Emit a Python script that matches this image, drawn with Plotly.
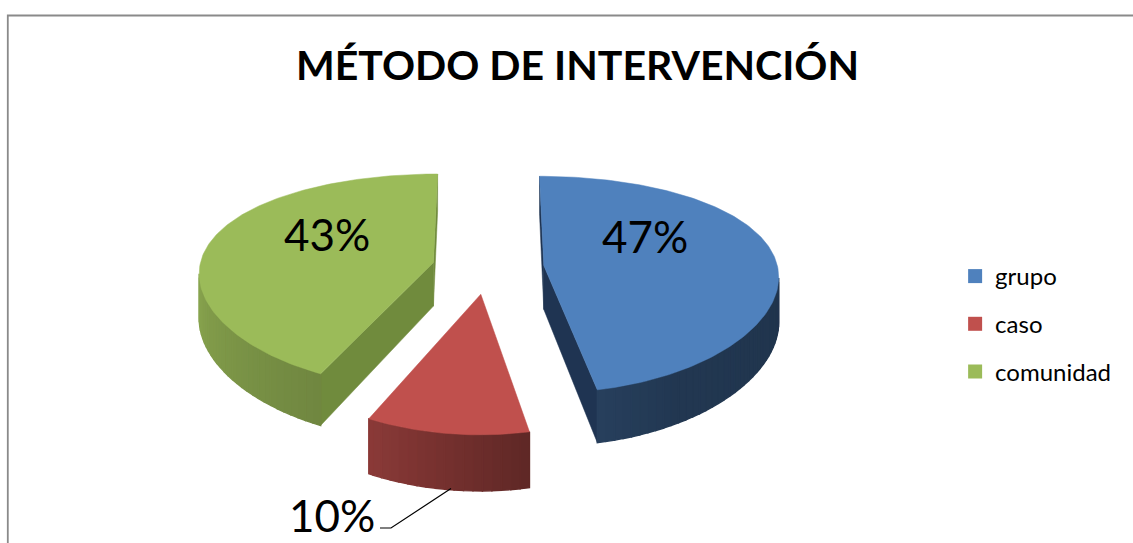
import numpy as np
import plotly.graph_objects as go

# ---------------- data ----------------
categories = ["grupo", "caso", "comunidad"]
values = [47, 10, 43]
top_colors = ["#4F81BD", "#C0504D", "#9BBB59"]
cut_colors = ["#1F3452", "#7A2E2C", "#708B3D"]
title_text = "MÉTODO DE INTERVENCIÓN"

# ---------------- layout / geometry constants ----------------
W, H = 1133, 543
CX, CY = 488.0, 268.0      # centre of the (unexploded) pie, px
RX, KY = 234.0, 105.7      # horizontal radius, vertical squash, px
DIST = 5.74                # perspective distance (in radii)
THICK = 44.0               # pie thickness, px
EXPLODE = 0.24             # explosion distance (in radii)
BAND = 3.0                 # degrees per shading band on the curved side
FONT = "Lato, 'Open Sans', sans-serif"

# side shading: fraction of the top colour vs. facing angle (deg, clockwise from back)
SHADE_ANG = [0, 90, 150, 169, 205, 270, 300, 360]
SHADE_FAC = [0.40, 0.40, 0.43, 0.49, 0.72, 0.89, 0.90, 0.90]

LABEL_XY = {"grupo": (645, 236), "comunidad": (327, 234), "caso": (332, 515)}


def proj(X, Z, depth=0.0):
    Z = np.asarray(Z, dtype=float)
    s = DIST / (DIST - Z)
    return CX + np.asarray(X) * RX * np.sqrt(s), CY + (Z * KY + depth * THICK) * s


def hex_scale(hexcol, f):
    h = hexcol.lstrip("#")
    r, g, b = (int(h[i:i + 2], 16) for i in (0, 2, 4))
    return "rgb({},{},{})".format(int(round(r * f)), int(round(g * f)), int(round(b * f)))


def area(xs, ys):
    xs = np.asarray(xs); ys = np.asarray(ys)
    return 0.5 * np.sum(xs * np.roll(ys, -1) - np.roll(xs, -1) * ys)


fig = go.Figure()

total = float(sum(values))
starts = np.concatenate([[0.0], np.cumsum(values)[:-1]]) / total * 360.0
ends = np.cumsum(values) / total * 360.0

slice_geom = {}


def poly(xs, ys, color, lw=1.0):
    fig.add_trace(go.Scatter(
        x=list(xs) + [xs[0]], y=list(ys) + [ys[0]], mode="lines", fill="toself",
        fillcolor=color, line=dict(color=color, width=lw),
        hoverinfo="skip", showlegend=False))


draw_order = [0, 2, 1]
for i in draw_order:
    a0, a1 = starts[i], ends[i]
    am = np.radians((a0 + a1) / 2)
    ox, oz = EXPLODE * np.sin(am), -EXPLODE * np.cos(am)
    n = max(12, int((a1 - a0) / 1.0))
    t = np.radians(np.linspace(a0, a1, n))
    bx = np.concatenate([[ox], ox + np.sin(t)])
    bz = np.concatenate([[oz], oz - np.cos(t)])
    tx, ty = proj(bx, bz, 0.0)
    dx, dy = proj(bx, bz, 1.0)
    m = len(bx)
    # cut faces
    for k, k2 in ((0, 1), (m - 1, 0)):
        qx = [tx[k], tx[k2], dx[k2], dx[k]]
        qy = [ty[k], ty[k2], dy[k2], dy[k]]
        if area(qx, qy) < -1e-6:
            poly(qx, qy, cut_colors[i], 0.5)
    # curved side: collect visible segments into bands
    vis = []
    for k in range(1, m - 1):
        qx = [tx[k], tx[k + 1], dx[k + 1], dx[k]]
        qy = [ty[k], ty[k + 1], dy[k + 1], dy[k]]
        vis.append(area(qx, qy) < -1e-6)
    k = 1
    while k < m - 1:
        if not vis[k - 1]:
            k += 1
            continue
        j = k
        while j < m - 1 and vis[j - 1] and np.degrees(t[j] - t[k - 1]) < BAND:
            j += 1
        idx = list(range(k, j + 1))
        px = [tx[q] for q in idx] + [dx[q] for q in reversed(idx)]
        py = [ty[q] for q in idx] + [dy[q] for q in reversed(idx)]
        tm = np.degrees((t[k - 1] + t[j - 1]) / 2) % 360
        col = hex_scale(top_colors[i], float(np.interp(tm, SHADE_ANG, SHADE_FAC)))
        poly(px, py, col, 1.4)
        k = j
    poly(tx, ty, top_colors[i], 0.5)
    mid_x, mid_y = proj(ox + np.sin(am), oz - np.cos(am), 1.0)
    slice_geom[categories[i]] = (float(mid_x), float(mid_y))

# legend entries
for cat, col in zip(categories, top_colors):
    fig.add_trace(go.Scatter(
        x=[None], y=[None], mode="markers", name=cat, legendgroup=cat,
        marker=dict(symbol="square", size=14, color=col), hoverinfo="skip"))

# leader line for the small slice
cx_, cy_ = slice_geom["caso"]
lx, ly = LABEL_XY["caso"]
fig.add_trace(go.Scatter(
    x=[lx + 48, lx + 59, cx_ + 4], y=[ly + 13, ly + 13, cy_ - 1], mode="lines",
    line=dict(color="black", width=1.2), hoverinfo="skip", showlegend=False))

annotations = []
for cat, v in zip(categories, values):
    x, y = LABEL_XY[cat]
    annotations.append(dict(x=x, y=y, xref="x", yref="y", text=f"{v}%", showarrow=False,
                            font=dict(family=FONT, size=44, color="black"),
                            xanchor="center", yanchor="middle"))
annotations.append(dict(x=577, y=64, xref="x", yref="y", text=f"<b>{title_text}</b>",
                        showarrow=False, font=dict(family=FONT, size=41, color="black"),
                        xanchor="center", yanchor="middle"))

fig.update_layout(
    width=W, height=H, margin=dict(l=0, r=0, t=0, b=0),
    paper_bgcolor="white", plot_bgcolor="white",
    xaxis=dict(range=[0, W], visible=False, fixedrange=True),
    yaxis=dict(range=[H, 0], visible=False, fixedrange=True),
    annotations=annotations,
    showlegend=True,
    legend=dict(x=0.843, y=1 - 254 / H, xanchor="left", yanchor="top",
                font=dict(family=FONT, size=24, color="black"),
                traceorder="grouped", tracegroupgap=13.5, bgcolor="rgba(0,0,0,0)"),
    shapes=[dict(type="rect", xref="x", yref="y", x0=7.8, y0=15.5, x1=W + 30, y1=H + 30,
                 line=dict(color="#8A8A8A", width=1.8), layer="above")],
)

fig.write_html("out.html", config={"displayModeBar": False},
               post_script="document.body.style.margin='0px';")
